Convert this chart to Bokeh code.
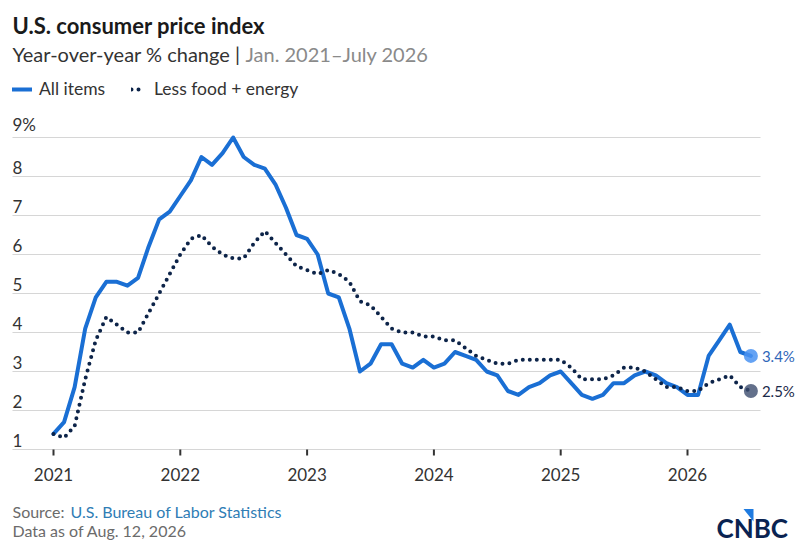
from bokeh.plotting import figure
from bokeh.models import Range1d, Legend, LegendItem, ColumnDataSource
from bokeh.core.properties import value
from bokeh.embed import file_html
from bokeh.resources import INLINE

# ---------------- data ----------------
start_year = 2021
all_items = [
    1.4, 1.7, 2.6, 4.1, 4.9, 5.3, 5.3, 5.2, 5.4, 6.2, 6.9, 7.1,   # 2021
    7.5, 7.9, 8.5, 8.3, 8.6, 9.0, 8.5, 8.3, 8.2, 7.8, 7.2, 6.5,   # 2022
    6.4, 6.0, 5.0, 4.9, 4.1, 3.0, 3.2, 3.7, 3.7, 3.2, 3.1, 3.3,   # 2023
    3.1, 3.2, 3.5, 3.4, 3.3, 3.0, 2.9, 2.5, 2.4, 2.6, 2.7, 2.9,   # 2024
    3.0, 2.7, 2.4, 2.3, 2.4, 2.7, 2.7, 2.9, 3.0, 2.9, 2.7, 2.6,   # 2025
    2.4, 2.4, 3.4, 3.8, 4.2, 3.5, 3.4,                            # 2026
]
core = [
    1.4, 1.3, 1.6, 2.8, 3.8, 4.4, 4.2, 4.0, 4.0, 4.5, 5.0, 5.5,   # 2021
    6.0, 6.4, 6.5, 6.2, 6.0, 5.9, 5.9, 6.3, 6.6, 6.3, 6.0, 5.7,   # 2022
    5.6, 5.5, 5.6, 5.5, 5.3, 4.8, 4.7, 4.4, 4.1, 4.0, 4.0, 3.9,   # 2023
    3.9, 3.8, 3.8, 3.6, 3.4, 3.3, 3.2, 3.2, 3.3, 3.3, 3.3, 3.3,   # 2024
    3.3, 3.1, 2.8, 2.8, 2.8, 2.9, 3.1, 3.1, 3.0, 2.8, 2.6, 2.6,   # 2025
    2.5, 2.5, 2.7, 2.8, 2.9, 2.6, 2.5,                            # 2026
]
x_months = [start_year + i / 12 for i in range(len(all_items))]
year_ticks = [2021, 2022, 2023, 2024, 2025, 2026]
year_labels = ["2021", "2022", "2023", "2024", "2025", "2026"]
y_ticks = [1, 2, 3, 4, 5, 6, 7, 8, 9]
y_labels = ["1", "2", "3", "4", "5", "6", "7", "8", "9%"]
series_names = ["All items", "Less food + energy"]

# ---------------- style ----------------
FONT = "Lato"
BLUE = "#1a6fd4"
NAVY = "#0d2449"
TXT = "#333333"
GRID = "#d6d6d6"

W, H = 796, 542
PX_YEAR = 126.8          # pixels per year
PX_UNIT = 39.0           # pixels per percentage point
ORIG_X0 = 53.0           # pixel of Jan 2021
ORIG_Y1 = 449.0          # pixel of the 1% baseline


def fx(px):
    return start_year + (px - ORIG_X0) / PX_YEAR


def fy(py):
    return 1.0 + (ORIG_Y1 - py) / PX_UNIT


# frame covers the whole canvas, so nothing is clipped
x_start, x_end = fx(0), fx(W)
y_end, y_start = fy(0), fy(H)

p = figure(width=W, height=H, output_backend="svg", toolbar_location=None,
           x_range=Range1d(x_start, x_end), y_range=Range1d(y_start, y_end),
           x_axis_location=None, y_axis_location=None,
           min_border=0, outline_line_color=None,
           background_fill_color="white", border_fill_color="white")
p.grid.visible = False

grid_x0, grid_x1 = fx(12), fx(760)
tick_len = 6 / PX_UNIT

# horizontal gridlines
p.segment(x0=[grid_x0] * len(y_ticks), x1=[grid_x1] * len(y_ticks),
          y0=y_ticks, y1=y_ticks, line_color=GRID, line_width=1.2)
# y tick labels sitting above the gridlines
ysrc = ColumnDataSource(dict(x=[grid_x0] * len(y_ticks), y=y_ticks, t=y_labels))
p.text(x="x", y="y", text="t", source=ysrc, text_font=value(FONT),
       text_font_size="17px", text_color=TXT, text_baseline="bottom",
       text_align="left", y_offset=-3)

# x ticks and labels
base = y_ticks[0]
p.segment(x0=year_ticks, x1=year_ticks, y0=[base] * len(year_ticks),
          y1=[base - tick_len] * len(year_ticks), line_color=TXT, line_width=2)
p.text(x=year_ticks, y=[base] * len(year_ticks), text=year_labels,
       text_font=value(FONT), text_font_size="17px", text_color=TXT,
       text_baseline="top", text_align="center", y_offset=18)

# series
r_all = p.line(x_months, all_items, line_color=BLUE, line_width=4,
               line_join="round", line_cap="round")
r_core = p.line(x_months, core, line_color=NAVY, line_width=4,
                line_dash="0 7", line_cap="round", line_join="round")

# end markers + labels
p.scatter([x_months[-1]], [all_items[-1]], size=14, fill_color="#4a93f2",
          fill_alpha=0.85, line_color=None)
p.scatter([x_months[-1]], [core[-1]], size=14, fill_color="#3c4c6e",
          fill_alpha=0.8, line_color=None)
p.text([x_months[-1]], [all_items[-1]], text=[f"{all_items[-1]}%"],
       x_offset=11, text_baseline="middle", text_font=value(FONT),
       text_font_size="15px", text_color="#2f66b8")
p.text([x_months[-1]], [core[-1]], text=[f"{core[-1]}%"],
       x_offset=11, text_baseline="middle", text_font=value(FONT),
       text_font_size="15px", text_color="#1c2a4a")

# legends (location measured from the bottom-left of the canvas)
leg_kw = dict(glyph_height=16, padding=0, margin=0, border_line_color=None,
              background_fill_alpha=0, label_text_font=FONT,
              label_text_font_size="17.5px", label_text_color=TXT,
              label_height=18)
leg1 = Legend(items=[LegendItem(label=series_names[0], renderers=[r_all])],
              location=(12, H - 99), glyph_width=20,
              label_standoff=7, **leg_kw)
leg2 = Legend(items=[LegendItem(label=series_names[1], renderers=[r_core])],
              location=(131, H - 99), glyph_width=13,
              label_standoff=10, **leg_kw)
p.add_layout(leg1, "center")
p.add_layout(leg2, "center")


def add_text(px, py, text, size, color, style="normal"):
    p.text([fx(px)], [fy(py)], text=[text], text_font=value(FONT),
           text_font_size=size, text_color=color, text_font_style=style,
           text_baseline="alphabetic", text_align="left")


add_text(12, 25, "U.S. consumer price index", "22px", "#1a1a1a", "bold")
add_text(12, 53, "Year-over-year % change |", "20px", TXT)
add_text(245, 53, "Jan. 2021\u2013July 2026", "20px", "#8a8a8a")
add_text(12, 511, "Source:", "16px", "#6b6b6b")
add_text(70, 511, "U.S. Bureau of Labor Statistics", "16px", "#2f7db5")
add_text(12, 530, "Data as of Aug. 12, 2026", "16px", "#6b6b6b")
add_text(716, 527, "CNBC", "26px", "#0a2351", "bold")

# blue wedge of the logo
p.patch([fx(743), fx(753), fx(753)], [fy(508.5), fy(508.5), fy(521)],
        fill_color="#1f7be0", line_color=None)

open("out.html", "w").write(file_html(p, INLINE))
